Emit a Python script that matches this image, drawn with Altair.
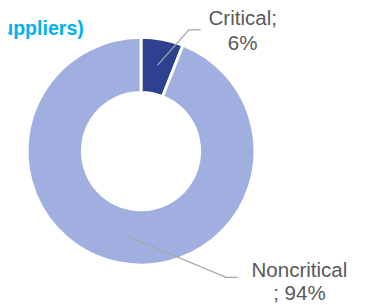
import altair as alt
import pandas as pd

# ---- data ----
categories = ["Critical", "Noncritical"]
shares = [6, 94]
label_lines = [["Critical;", "6%"], ["Noncritical", "; 94%"]]
title_text = "(% of suppliers)"

# ---- style / layout ----
slice_colors = ["#2E4190", "#A0AEE0"]
W, H = 362, 297
CX, CY = 136, 143
label_pos = [(240, 14.3, 25), (298, 271.3, 24)]
leader_pts = [
    [(153, 55), (185, 19), (197, 19)],
    [(120, 229), (223, 272), (235, 272)],
]

df = pd.DataFrame({"category": categories, "share": shares, "order": list(range(len(categories)))})

donut = alt.Chart(df).mark_arc(
    innerRadius=60, outerRadius=116.5, stroke="white", strokeWidth=3
).encode(
    theta=alt.Theta("share:Q", stack=True),
    order=alt.Order("order:Q"),
    color=alt.Color("category:N", scale=alt.Scale(domain=categories, range=slice_colors), legend=None),
    x=alt.value(CX),
    y=alt.value(CY),
)

rows = []
for cat, pts in zip(categories, leader_pts):
    for i, (px, py) in enumerate(pts):
        rows.append({"seg": cat, "i": i, "px": px, "py": py})
ldf = pd.DataFrame(rows)

leaders = alt.Chart(ldf).mark_line(color="#A6A6A6", strokeWidth=1.3).encode(
    x=alt.X("px:Q", scale=alt.Scale(domain=[0, W], range=[0, W], nice=False, zero=False), axis=None),
    y=alt.Y("py:Q", scale=alt.Scale(domain=[0, H], range=[0, H], nice=False, zero=False), axis=None),
    detail="seg:N",
    order="i:Q",
)

one = pd.DataFrame({"a": [0]})
labels = []
for lines, (lx, ly, lh) in zip(label_lines, label_pos):
    labels.append(
        alt.Chart(one).mark_text(
            text=lines, font="Liberation Sans", fontSize=21, color="#595959",
            align="center", baseline="alphabetic", lineHeight=lh,
        ).encode(x=alt.value(lx), y=alt.value(ly))
    )

title = alt.Chart(one).mark_text(
    text=title_text, font="Liberation Sans", fontSize=20, fontWeight="bold",
    color="#00B0F0", align="right", baseline="alphabetic",
).encode(x=alt.value(77.5), y=alt.value(24.3))

chart = alt.layer(donut, leaders, *labels, title).properties(
    width=W, height=H, autosize="none", padding=0
).configure_view(stroke=None)

chart.save("out.html", embed_options={"renderer": "svg", "actions": False})
